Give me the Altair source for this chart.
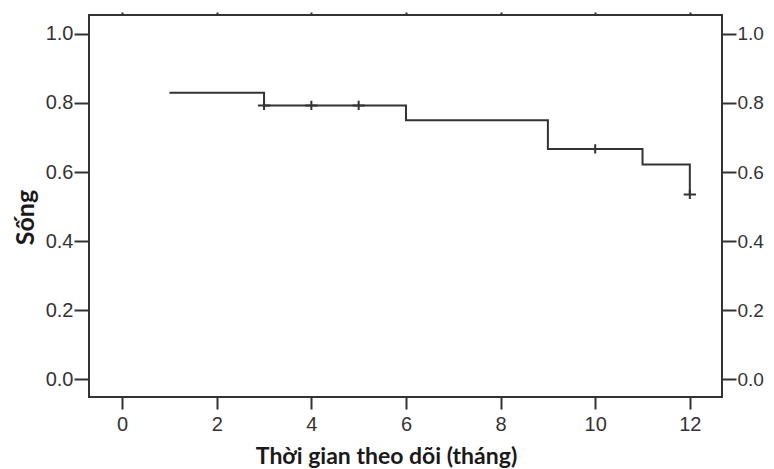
import altair as alt
import pandas as pd

# Kaplan-Meier step values
times = [1, 3, 6, 9, 11, 12]
surv = [0.83, 0.793, 0.75, 0.667, 0.622, 0.535]

# Censored observations
censor_times = [3, 4, 5, 10, 12]
censor_surv = [0.793, 0.793, 0.793, 0.667, 0.535]

x_ticks = [0, 2, 4, 6, 8, 10, 12]
y_ticks = [0.0, 0.2, 0.4, 0.6, 0.8, 1.0]

x_title = "Thời gian theo dõi (tháng)"
y_title = "Sống"

steps = pd.DataFrame({"t": times, "s": surv})
cens = pd.DataFrame({"t": censor_times, "s": censor_surv})

XDOM = [-0.70, 12.68]
YDOM = [-0.052, 1.055]
INK = "#333333"
TXT = "#1a1a1a"

xs = alt.Scale(domain=XDOM, nice=False, zero=False)
ys = alt.Scale(domain=YDOM, nice=False, zero=False)

line = alt.Chart(steps).mark_line(
    interpolate="step-after", color=INK, strokeWidth=2
).encode(
    x=alt.X("t:Q", scale=xs, axis=alt.Axis(
        orient="bottom", values=x_ticks, format="d", title=x_title,
        domain=False, tickSize=12, tickWidth=2, tickColor=INK,
        labelPadding=5, labelFont="Liberation Sans", labelFontSize=20,
        labelColor=INK, grid=False,
        titleFont="Lato", titleFontSize=23, titleFontWeight="bold",
        titleColor=TXT, titleBaseline="alphabetic", titleX=297, titleY=66,
        titleAlign="center")),
    y=alt.Y("s:Q", scale=ys, axis=alt.Axis(
        orient="left", values=y_ticks, format=".1f", title=y_title,
        domain=False, tickSize=15, tickWidth=2, tickColor=INK,
        labelPadding=1, labelFont="Liberation Sans", labelFontSize=20,
        labelColor=INK, grid=False,
        titleFont="Lato", titleFontSize=25, titleFontWeight="bold",
        titleColor=TXT, titleBaseline="alphabetic", titleX=-56, titleY=202,
        titleAlign="center", titleAngle=270)),
)

marks = alt.Chart(cens).mark_point(
    shape="M-1,0L1,0M0,-0.75L0,0.75", size=150, color=INK,
    strokeWidth=2, filled=False, opacity=1
).encode(
    x=alt.X("t:Q", scale=xs, axis=alt.Axis(
        orient="top", values=x_ticks, labels=False, title=None,
        domain=False, tickSize=3, tickWidth=2, tickColor=INK, grid=False)),
    y=alt.Y("s:Q", scale=ys, axis=alt.Axis(
        orient="right", values=y_ticks, format=".1f", title=None,
        domain=False, tickSize=14, tickWidth=2, tickColor=INK,
        labelPadding=1, labelFont="Liberation Sans", labelFontSize=19,
        labelColor=INK, grid=False)),
)

chart = alt.layer(line, marks).resolve_scale(
    x="independent", y="independent"
).properties(
    width=633, height=382,
    autosize=alt.AutoSizeParams(type="none"),
    padding={"left": 81, "top": 7, "right": 44, "bottom": 72},
).configure_view(stroke=INK, strokeWidth=2)

chart.save("out.html", embed_options={"renderer": "svg", "actions": False})
